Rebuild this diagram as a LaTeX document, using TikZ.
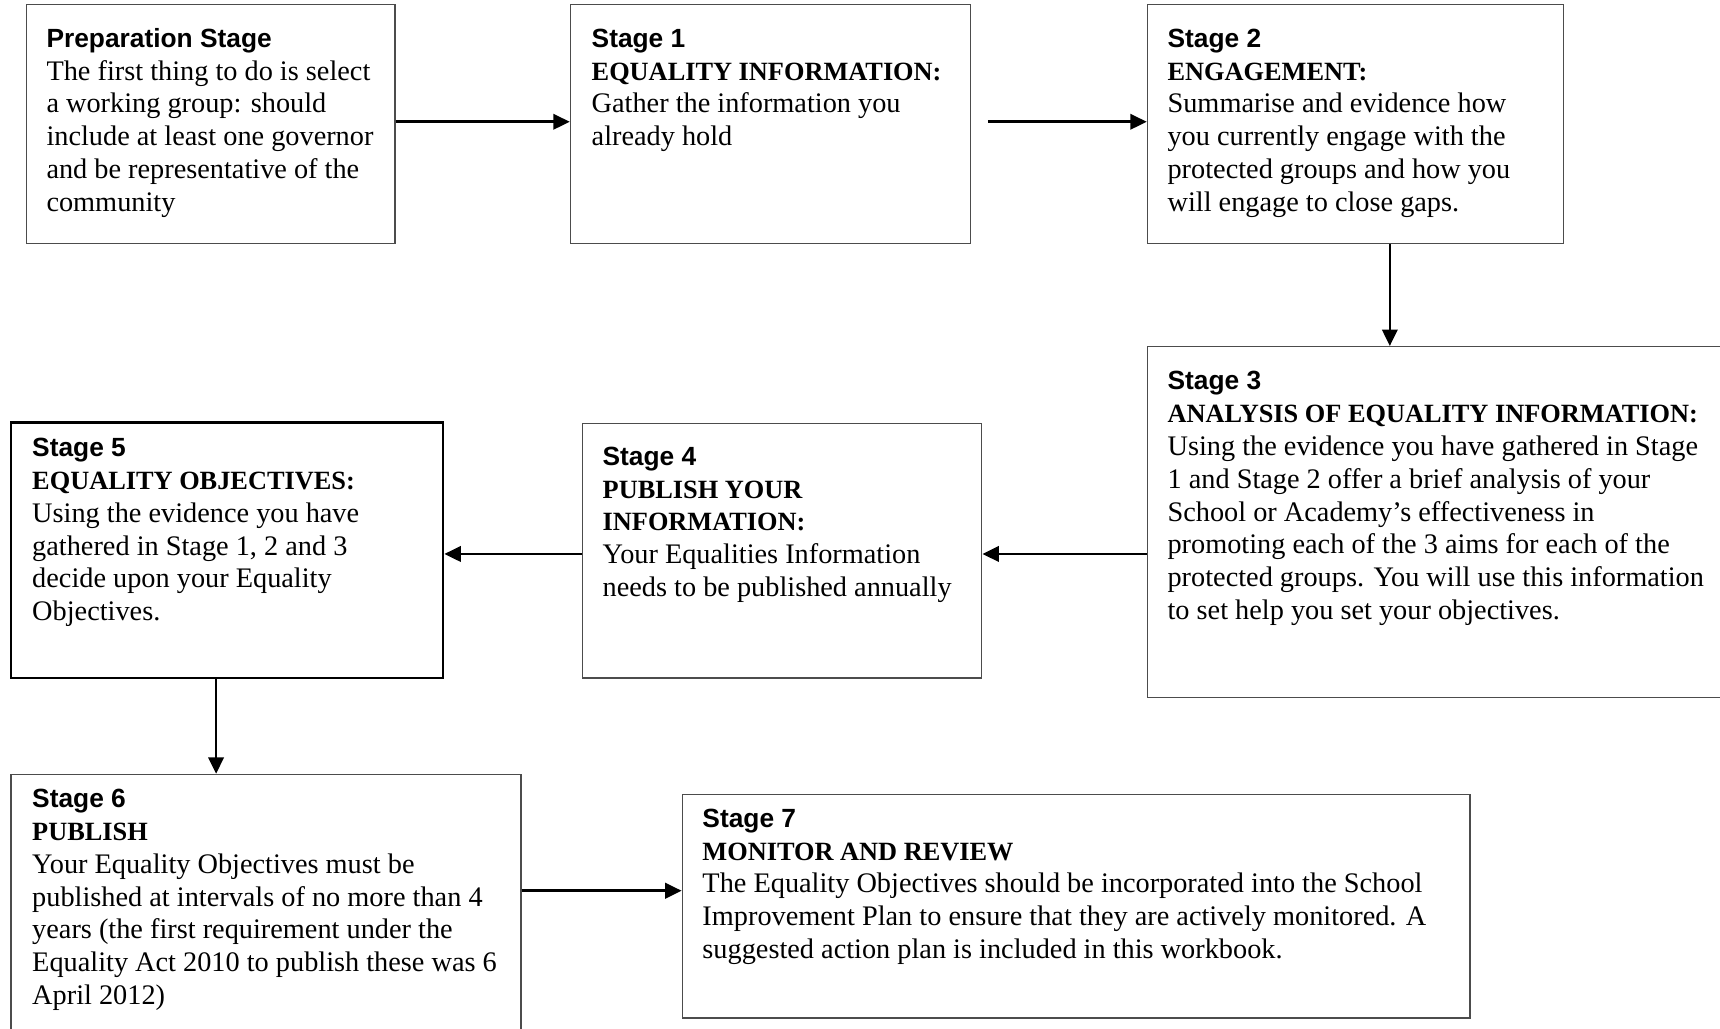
\documentclass[tikz,border=0pt]{standalone}
\usepackage{fontspec}
\setmainfont{Liberation Serif}
\setsansfont{Liberation Sans}
\usetikzlibrary{arrows.meta,fit}
\tikzset{
  box/.style={draw=black!70, line width=0.6pt, inner sep=0pt},
  boxb/.style={draw=black, line width=1.1pt, inner sep=0pt},
  txt/.style={anchor=base west, align=left, inner sep=0pt, font=\fontsize{12.9}{15}\selectfont},
  conn/.style={line width=1.2pt, -{Triangle[length=7.5pt,width=7pt]}},
}
\newcommand{\hd}[1]{{\sffamily\bfseries\fontsize{12}{15}\selectfont #1}}
\newcommand{\cp}[1]{{\bfseries\fontsize{12}{15}\selectfont #1}}
\begin{document}
\begin{tikzpicture}[x=0.5pt,y=-0.5pt]
\useasboundingbox (0,0) rectangle (1568,938);
\clip (0,0) rectangle (1568,938);
% boxes
\node[box, fit={(24,4) (360,222)}] (prep) {};
\node[box, fit={(520,4) (885,222)}] (s1) {};
\node[box, fit={(1046,4) (1425,222)}] (s2) {};
\node[box, fit={(1046,316) (1575,636)}] (s3) {};
\node[box, fit={(531,386) (895,618)}] (s4) {};
\node[boxb, fit={(10,385) (404,618)}] (s5) {};
\node[box, fit={(10,706) (475,960)}] (s6) {};
\node[box, fit={(622,724) (1340,928)}] (s7) {};
% texts (anchored at the baseline of their last line)
\node[txt] (prept) at (42,193) {\hd{Preparation Stage}\\The first thing to do is select\\a working group: should\\include at least one governor\\and be representative of the\\community};
\node[txt] (s1t) at (539,133) {\hd{Stage 1}\\\cp{EQUALITY INFORMATION:}\\Gather the information you\\already hold};
\node[txt] (s2t) at (1064,193) {\hd{Stage 2}\\\cp{ENGAGEMENT:}\\Summarise and evidence how\\you currently engage with the\\protected groups and how you\\will engage to close gaps.};
\node[txt] (s3t) at (1064,565) {\hd{Stage 3}\\\cp{ANALYSIS OF EQUALITY INFORMATION:}\\Using the evidence you have gathered in Stage\\1 and Stage 2 offer a brief analysis of your\\School or Academy’s effectiveness in\\promoting each of the 3 aims for each of the\\protected groups. You will use this information\\to set help you set your objectives.};
\node[txt] (s4t) at (549,544) {\hd{Stage 4}\\\cp{PUBLISH YOUR}\\\cp{INFORMATION:}\\Your Equalities Information\\needs to be published annually};
\node[txt] (s5t) at (29,566) {\hd{Stage 5}\\\cp{EQUALITY OBJECTIVES:}\\Using the evidence you have\\gathered in Stage 1, 2 and 3\\decide upon your Equality\\Objectives.};
\node[txt] (s6t) at (29,916) {\hd{Stage 6}\\\cp{PUBLISH}\\Your Equality Objectives must be\\published at intervals of no more than 4\\years (the first requirement under the\\Equality Act 2010 to publish these was 6\\April 2012)};
\node[txt] (s7t) at (640,874) {\hd{Stage 7}\\\cp{MONITOR AND REVIEW}\\The Equality Objectives should be incorporated into the School\\Improvement Plan to ensure that they are actively monitored. A\\suggested action plan is included in this workbook.};
% connectors
\coordinate (c12) at (0,111);
\coordinate (c23) at (1267,0);
\coordinate (c345) at (0,505);
\coordinate (c56) at (197,0);
\coordinate (c67) at (0,812);
\draw[conn] (prep.east |- c12) -- (s1.west |- c12);
\draw[conn, shorten <=7.5pt] (s1.east |- c12) -- (s2.west |- c12);
\draw[conn] (s2.south -| c23) -- (s3.north -| c23);
\draw[conn] (s3.west |- c345) -- (s4.east |- c345);
\draw[conn] (s4.west |- c345) -- (s5.east |- c345);
\draw[conn] (s5.south -| c56) -- (s6.north -| c56);
\draw[conn] (s6.east |- c67) -- (s7.west |- c67);
\end{tikzpicture}
\end{document}
